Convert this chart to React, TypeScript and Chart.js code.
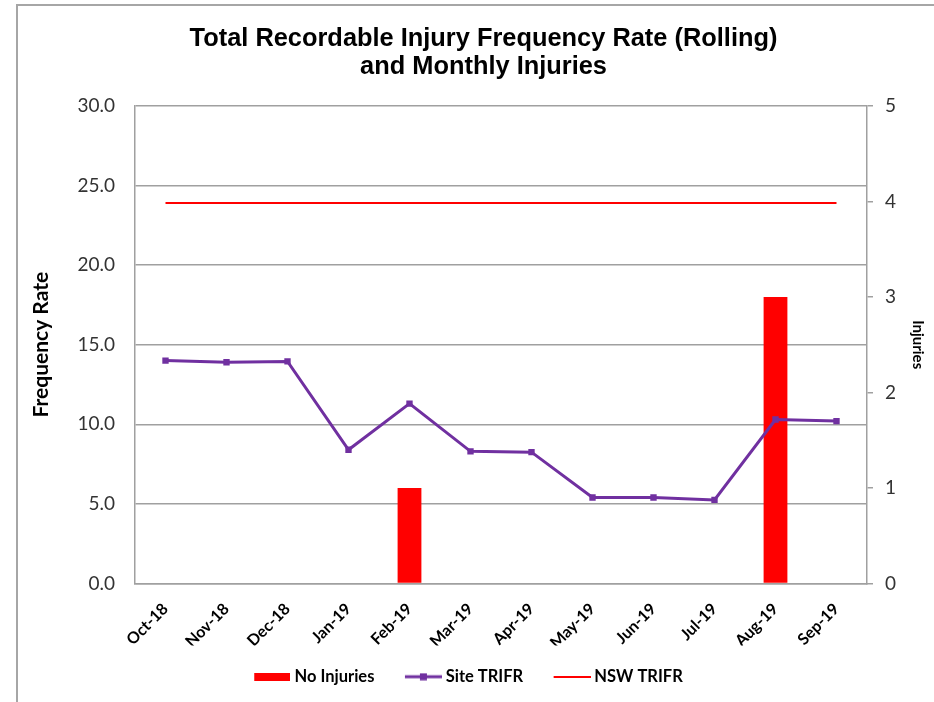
import React, { useEffect, useRef } from "react";
import { Chart, registerables } from "chart.js";

Chart.register(...registerables);

const months = ["Oct-18", "Nov-18", "Dec-18", "Jan-19", "Feb-19", "Mar-19", "Apr-19", "May-19", "Jun-19", "Jul-19", "Aug-19", "Sep-19"];
const noInjuries = [0, 0, 0, 0, 1, 0, 0, 0, 0, 0, 3, 0];
const siteTrifr = [14.0, 13.9, 13.95, 8.4, 11.3, 8.3, 8.25, 5.4, 5.4, 5.25, 10.3, 10.2];
const nswTrifr = [23.9, 23.9, 23.9, 23.9, 23.9, 23.9, 23.9, 23.9, 23.9, 23.9, 23.9, 23.9];
const titleLines = ["Total Recordable Injury Frequency Rate (Rolling)", "and Monthly Injuries"];
const seriesNames = ["No Injuries", "Site TRIFR", "NSW TRIFR"];

const RED = "#FF0000";
const PURPLE = "#7030A0";
const GRID = "#a0a0a0";
const TICK_FONT = "Lato";

// legend swatches: a transparent margin on the left shifts the visible symbol right
const SW_MARGIN = 12;
function makeSwatch(kind: string): HTMLCanvasElement {
  const c = document.createElement("canvas");
  const m = SW_MARGIN;
  if (kind === "bar") {
    c.width = 36 + m;
    c.height = 8;
    const g = c.getContext("2d")!;
    g.fillStyle = RED;
    g.fillRect(m, 0, 36, 8);
  } else if (kind === "site") {
    c.width = 37 + m;
    c.height = 8;
    const g = c.getContext("2d")!;
    g.fillStyle = PURPLE;
    g.fillRect(m, 2.5, 37, 3);
    g.fillRect(m + 15, 0.5, 7, 7);
  } else {
    c.width = 37 + m;
    c.height = 2;
    const g = c.getContext("2d")!;
    g.fillStyle = RED;
    g.fillRect(m, 0, 37, 2);
  }
  return c;
}

// nudges the full-width title and legend boxes to the reference's centres
const boxShift = {
  id: "boxShift",
  afterLayout(chart: any) {
    const t = chart.titleBlock;
    if (t) {
      t.left += 16;
    }
    const l = chart.legend;
    if (l) {
      l.left -= 11;
      l.right -= 11;
    }
  },
};

export default function App() {
  const ref = useRef<HTMLCanvasElement | null>(null);

  useEffect(() => {
    if (!ref.current) return;
    const swatches = [makeSwatch("bar"), makeSwatch("site"), makeSwatch("nsw")];
    const chart = new Chart(ref.current, {
      type: "bar",
      data: {
        labels: months,
        datasets: [
          {
            type: "bar",
            label: seriesNames[0],
            data: noInjuries,
            yAxisID: "y1",
            backgroundColor: RED,
            borderWidth: 0,
            barPercentage: 0.39,
            categoryPercentage: 1,
            order: 3,
          },
          {
            type: "line",
            label: seriesNames[1],
            data: siteTrifr,
            yAxisID: "y",
            borderColor: PURPLE,
            backgroundColor: PURPLE,
            borderWidth: 3,
            pointStyle: "rect",
            pointRadius: 4.5,
            pointBackgroundColor: PURPLE,
            pointBorderColor: PURPLE,
            pointBorderWidth: 0,
            tension: 0,
            order: 1,
          },
          {
            type: "line",
            label: seriesNames[2],
            data: nswTrifr,
            yAxisID: "y",
            borderColor: RED,
            backgroundColor: RED,
            borderWidth: 2,
            pointRadius: 0,
            tension: 0,
            order: 2,
          },
        ],
      } as any,
      options: {
        responsive: false,
        animation: false,
        devicePixelRatio: 1,
        layout: { padding: { left: 17, top: 5, right: 0, bottom: 7 } },
        plugins: {
          tooltip: { enabled: false },
          title: {
            display: true,
            text: titleLines,
            color: "#000",
            font: { family: "Liberation Sans", size: 25.4, weight: "bold", lineHeight: 1.1 },
            padding: { top: 20, bottom: 25 },
          },
          legend: {
            display: true,
            position: "bottom",
            labels: {
              usePointStyle: true,
              pointStyleWidth: 40,
              boxHeight: 8,
              padding: 23,
              color: "#000",
              font: { family: TICK_FONT, size: 16.5, weight: "bold" },
              sort: (a: any, b: any) => a.datasetIndex - b.datasetIndex,
              generateLabels: (ch: any) =>
                ch.data.datasets.map((ds: any, i: number) => ({
                  text: ds.label,
                  datasetIndex: i,
                  pointStyle: swatches[i],
                  fillStyle: "transparent",
                  strokeStyle: "transparent",
                  lineWidth: 0,
                  hidden: false,
                  fontColor: "#000",
                })),
            },
          },
        },
        scales: {
          x: {
            offset: true,
            grid: { display: false, drawTicks: false },
            border: { display: true, color: GRID, width: 1.5 },
            ticks: {
              autoSkip: false,
              maxRotation: 45,
              minRotation: 45,
              padding: 16,
              color: "#000",
              font: { family: TICK_FONT, size: 16, weight: "bold" },
            },
            afterFit: (s: any) => {
              s.height = 62;
            },
          },
          y: {
            position: "left",
            min: 0,
            max: 30,
            ticks: {
              stepSize: 5,
              padding: 20,
              color: "#333",
              font: { family: TICK_FONT, size: 19 },
              callback: (v: any) => Number(v).toFixed(1),
            },
            grid: { color: GRID, lineWidth: 1.5, drawTicks: false },
            border: { display: true, color: GRID, width: 1.5 },
            title: {
              display: true,
              text: "Frequency Rate",
              color: "#000",
              font: { family: TICK_FONT, size: 21, weight: "bold" },
              padding: { top: 12, bottom: 0 },
            },
            afterFit: (s: any) => {
              s.width = 118;
            },
          },
          y1: {
            position: "right",
            min: 0,
            max: 5,
            ticks: {
              stepSize: 1,
              padding: 12,
              color: "#333",
              font: { family: TICK_FONT, size: 19 },
            },
            grid: { drawOnChartArea: false, drawTicks: true, tickLength: 6, color: GRID, lineWidth: 1.5 },
            border: { display: true, color: GRID, width: 1.5 },
            title: {
              display: true,
              text: "Injuries",
              color: "#000",
              font: { family: TICK_FONT, size: 15, weight: "bold" },
              padding: { top: 7, bottom: 0 },
            },
            afterFit: (s: any) => {
              s.width = 67;
            },
          },
        },
      } as any,
      plugins: [boxShift],
    });
    return () => chart.destroy();
  }, []);

  return (
    <div style={{ position: "fixed", left: 0, top: 0, width: 934, height: 702, overflow: "hidden", background: "#fff" }}>
      <div
        style={{
          position: "absolute",
          left: 16,
          top: 4,
          width: 940,
          height: 720,
          borderLeft: "2px solid #a6a6a6",
          borderTop: "2px solid #a6a6a6",
        }}
      />
      <canvas ref={ref} width={934} height={702} style={{ position: "absolute", left: 0, top: 0 }} />
    </div>
  );
}
